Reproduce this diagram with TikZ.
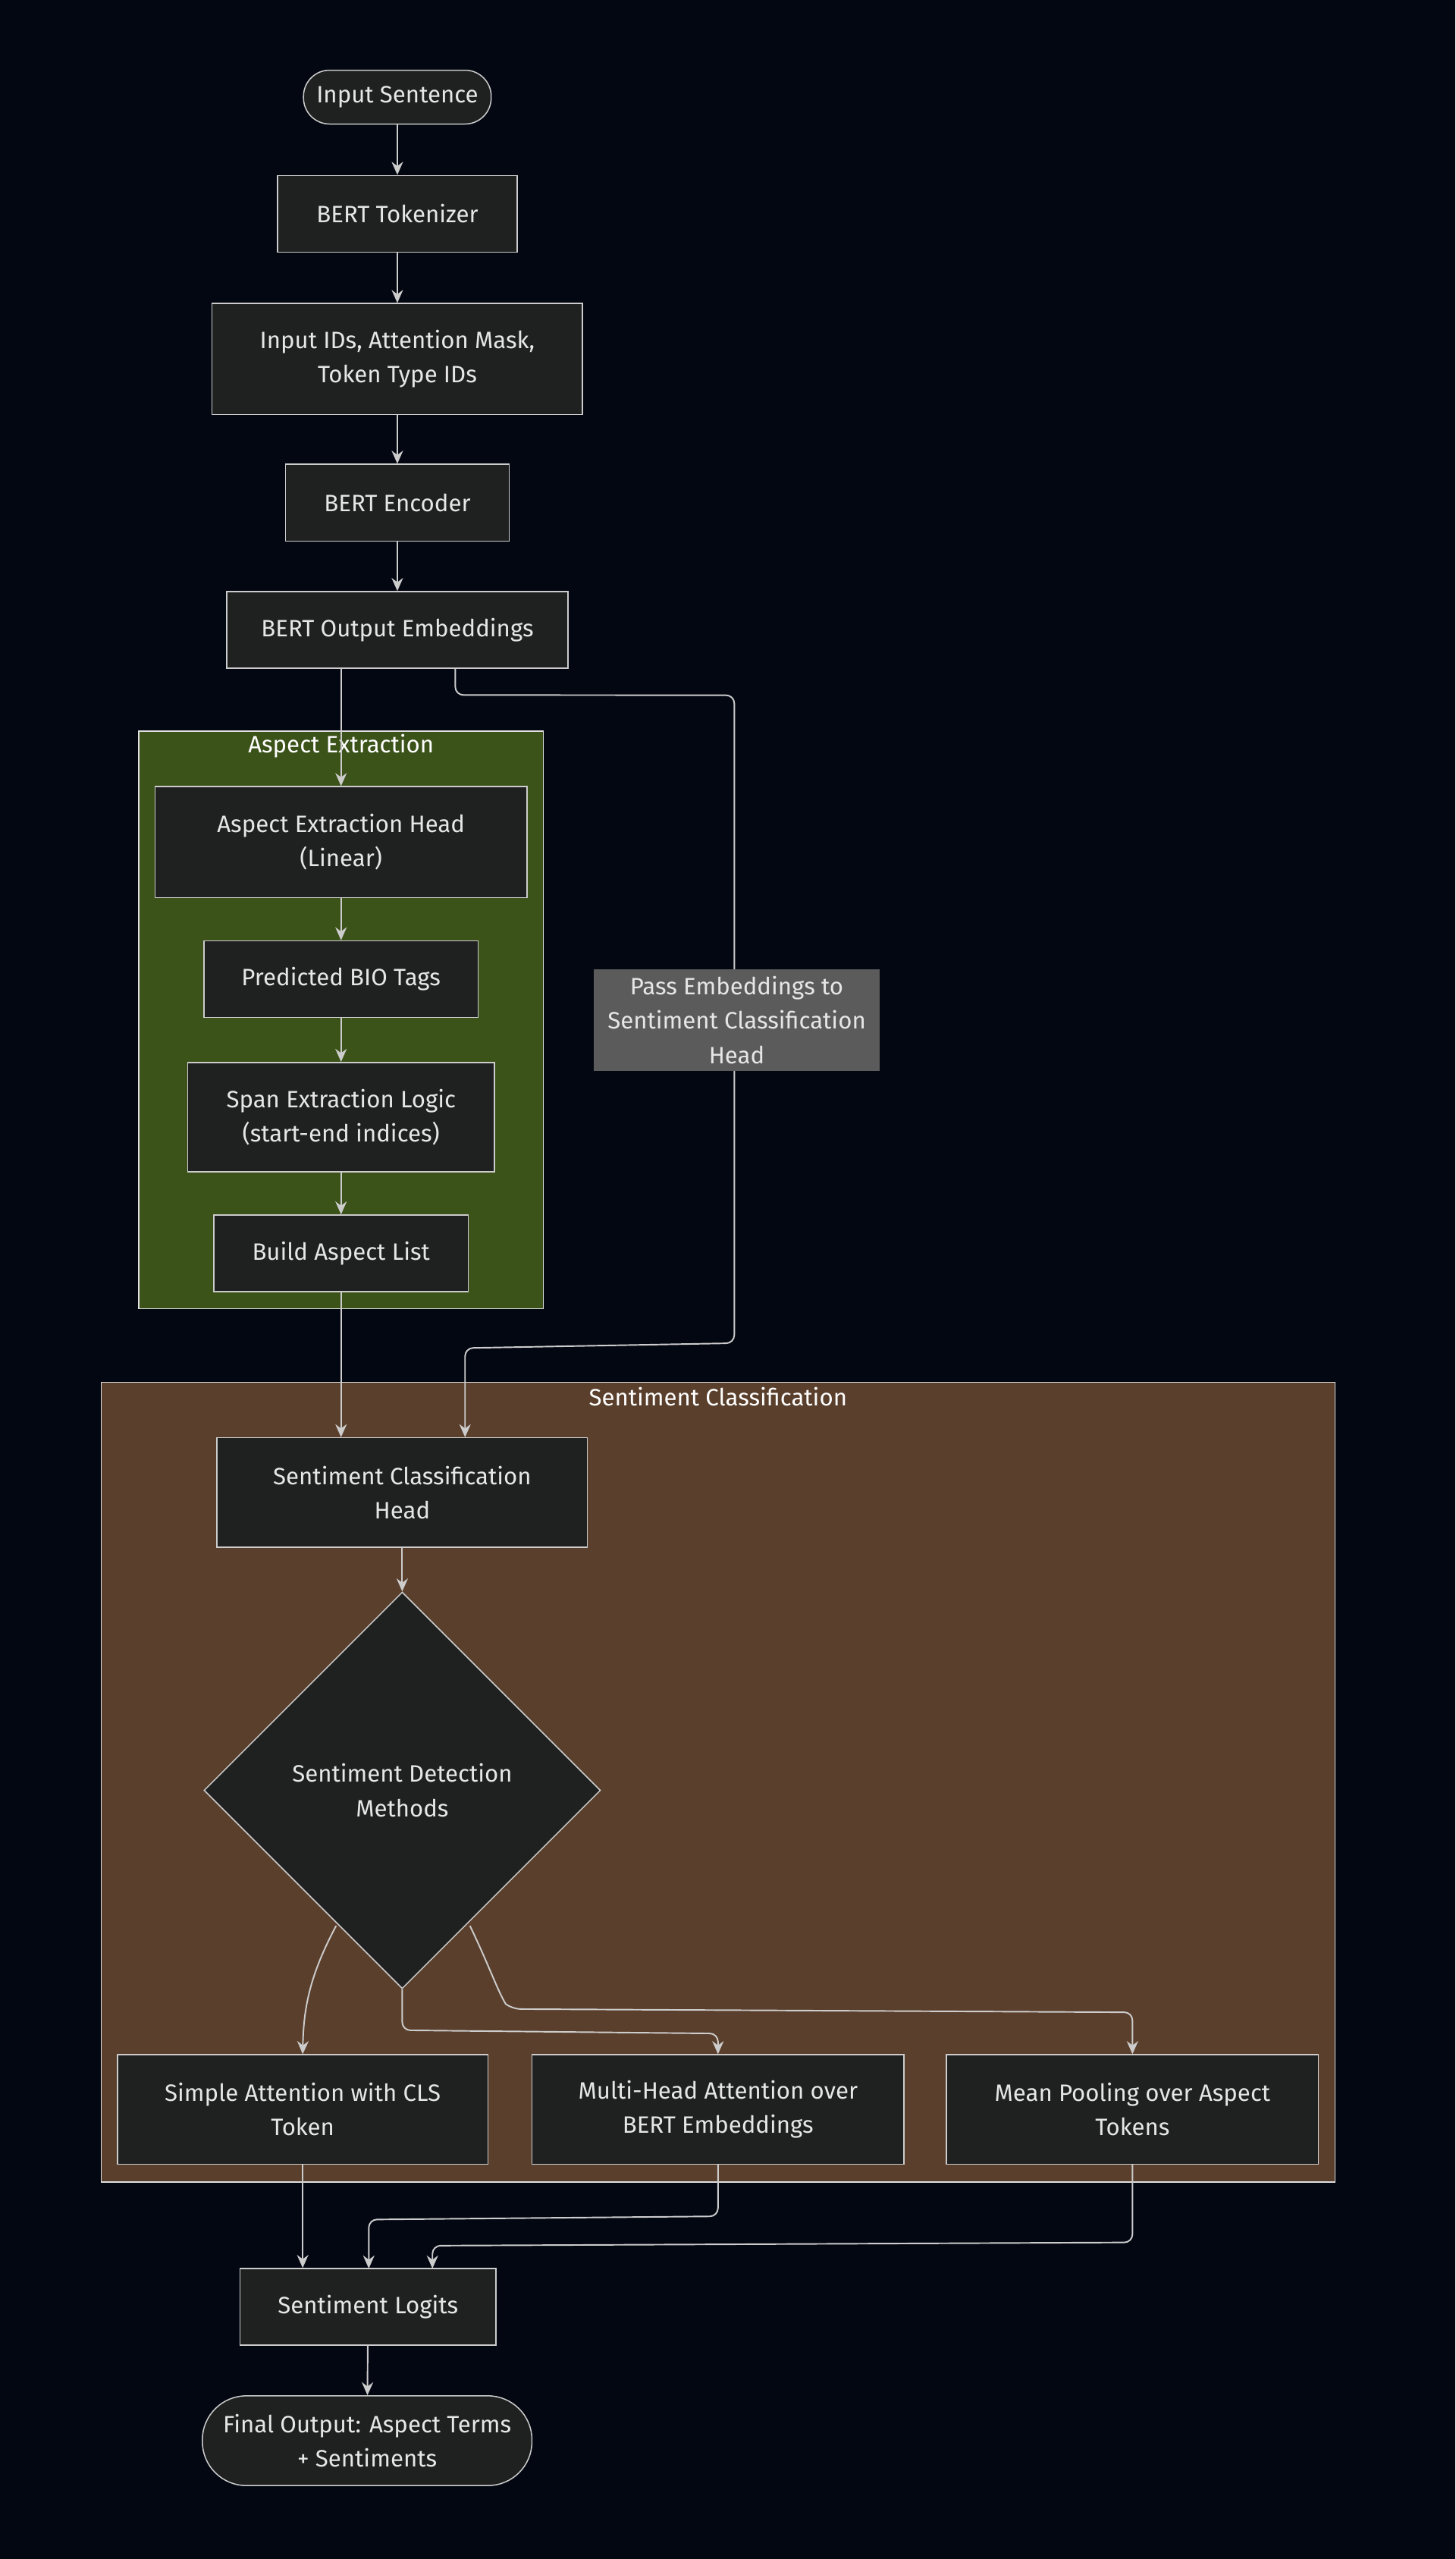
\documentclass[tikz,border=0pt]{standalone}
\usepackage{fontspec}
\setmainfont{Fira Sans}
\usetikzlibrary{shapes.geometric,arrows.meta,calc}
\definecolor{bg}{HTML}{030712}
\definecolor{nfill}{HTML}{1F2020}
\definecolor{nline}{HTML}{CCCCCC}
\definecolor{gclu}{HTML}{3B5219}
\definecolor{bclu}{HTML}{5A3F2C}
\definecolor{lbl}{HTML}{5B5B5B}
\definecolor{txt}{HTML}{E6E6E6}
\begin{document}
\begin{tikzpicture}[x=1pt,y=-1pt,
  every node/.style={font=\fontsize{14.5}{21}\selectfont, text=txt},
  box/.style={draw=nline, fill=nfill, line width=0.7pt, align=center, inner sep=0pt},
  stad/.style={box, rounded corners=16pt},
  arr/.style={draw=nline, line width=0.9pt, rounded corners=5pt, -{Stealth[length=8pt,width=7pt]}},
  clu/.style={draw=nline!60, line width=0.6pt}]
\fill[bg] (0,0) rectangle (892,1568);
\useasboundingbox (0,0) rectangle (892,1568);
% clusters
\draw[clu, fill=gclu] (85,448) rectangle (333,802);
\node[text=white] (ta) at (209,457) {Aspect Extraction};
\draw[clu, fill=bclu] (62,847) rectangle (818,1337);
\node[text=white] (ts) at (440,856) {Sentiment Classification};
% nodes
\node[stad, minimum width=115, minimum height=33] (in) at (243.5,59.5) {Input Sentence};
\node[box, minimum width=147, minimum height=47] (tok) at (243.5,131) {BERT Tokenizer};
\node[box, minimum width=227, minimum height=68] (ids) at (243.5,220) {Input IDs, Attention Mask,\\Token Type IDs};
\node[box, minimum width=137, minimum height=47] (enc) at (243.5,308) {BERT Encoder};
\node[box, minimum width=209, minimum height=47] (emb) at (243.5,386) {BERT Output Embeddings};
\node[box, minimum width=228, minimum height=68] (ah) at (209,516) {Aspect Extraction Head\\(Linear)};
\node[box, minimum width=168, minimum height=47] (bio) at (209,600) {Predicted BIO Tags};
\node[box, minimum width=188, minimum height=67] (span) at (209,684.5) {Span Extraction Logic\\(start-end indices)};
\node[box, minimum width=156, minimum height=47] (build) at (209,768) {Build Aspect List};
\node[box, minimum width=227, minimum height=67] (sch) at (246.5,914.5) {Sentiment Classification\\Head};
\node[draw=nline, fill=nfill, line width=0.7pt, diamond, minimum width=243, minimum height=243, inner sep=0pt, align=center] (dia) at (246.5,1097) {Sentiment Detection\\Methods};
\node[box, minimum width=227, minimum height=67] (sa) at (185.5,1292.5) {Simple Attention with CLS\\Token};
\node[box, minimum width=228, minimum height=67] (mh) at (440,1292.5) {Multi-Head Attention over\\BERT Embeddings};
\node[box, minimum width=228, minimum height=67] (mp) at (694,1292.5) {Mean Pooling over Aspect\\Tokens};
\node[box, minimum width=157, minimum height=47] (log) at (225.5,1413.5) {Sentiment Logits};
\node[stad, minimum width=202, minimum height=55, rounded corners=27pt] (fin) at (225,1495.5) {Final Output: Aspect Terms\\+ Sentiments};
% edges
\draw[arr] (in) -- (tok);
\draw[arr] (tok) -- (ids);
\draw[arr] (ids) -- (enc);
\draw[arr] (enc) -- (emb);
\draw[arr] (emb.south -| ah.north) -- (ah.north);
\draw[arr] (ah) -- (bio);
\draw[arr] (bio) -- (span);
\draw[arr] (span) -- (build);
\draw[arr] (build.south) -- (build.south |- sch.north);
\draw[arr] ($(emb.south)+(35.5,0)$) -- ++(0,16) -- (450,426) -- (450,823) -- (285,826) -- ($(sch.north)+(38.5,0)$);
\node[fill=lbl, minimum width=175, minimum height=62, align=center, inner sep=0pt] (pl) at (451.5,625) {Pass Embeddings to\\Sentiment Classification\\Head};
\draw[arr] (sch) -- (dia.north);
\coordinate (dl) at (206,1180);
\coordinate (dr) at (288,1180);
\draw[arr] (dl) .. controls (190,1210) and (186,1230) .. (sa.north);
\draw[arr] (dia.south) -- (246.5,1244) -- (440,1246) -- (mh.north);
\draw[arr, rounded corners=0pt] (dr) .. controls (300,1205) and (305,1220) .. (310,1228) [rounded corners=5pt] -- (314,1231) -- (694,1233) -- (mp.north);
\draw[arr] (sa.south) -- (sa.south |- log.north);
\draw[arr] (mh.south) -- (440,1358) -- (226,1360) -- (226,1390);
\draw[arr] (mp.south) -- (694,1374) -- (265,1376) -- (265,1390);
\draw[arr] (log) -- (fin);
\end{tikzpicture}
\end{document}
